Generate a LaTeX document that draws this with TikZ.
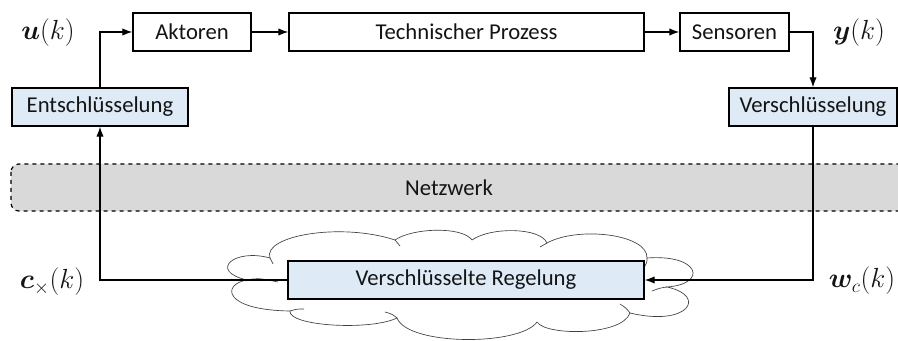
\documentclass[tikz,border=0pt]{standalone}
\usepackage{amsmath,bm}
\usepackage{fontspec}
\setmainfont{Carlito}
\usetikzlibrary{arrows.meta}

\definecolor{boxblue}{HTML}{DEEBF7}
\definecolor{netgray}{HTML}{D9D9D9}
\definecolor{txt}{HTML}{141414}

\begin{document}
\begin{tikzpicture}[
  x=0.75pt, y=-0.75pt,
  font=\fontsize{17}{20}\selectfont, text=txt,
  block/.style={draw=black, line width=1pt, fill=white, minimum height=38*0.75pt,
                inner sep=0pt, anchor=center},
  codec/.style={block, fill=boxblue},
  arr/.style={line width=0.9pt, -{Latex[length=7.5pt,width=5.5pt]}},
  cloudline/.style={draw=black!75, line width=0.5pt},
  sig/.style={font=\fontsize{19.5}{22}\selectfont, anchor=center},
]
\useasboundingbox (0,0) rectangle (898,341);

% network band, open to the right
\begin{scope}
  \clip (0,0) rectangle (898,341);
  \draw[dashed, line width=0.9pt, fill=netgray, rounded corners=8*0.75pt]
    (11,164) rectangle (930,211);
\end{scope}
\node[anchor=center] (net) at (449,188) {Netzwerk};

% cloud behind the encrypted controller
\path[cloudline, fill=white]
  (270,258) .. controls (262,236) and (340,222) .. (395,240)
            .. controls (412,228) and (462,226) .. (472,240)
            .. controls (490,227) and (540,227) .. (547,243)
            .. controls (578,226) and (648,234) .. (647,258)
            .. controls (700,254) and (708,284) .. (667,287)
            .. controls (708,296) and (688,327) .. (630,313)
            .. controls (622,336) and (546,336) .. (537,322)
            .. controls (520,346) and (408,346) .. (397,318)
            .. controls (370,331) and (288,326) .. (290,311)
            .. controls (222,310) and (222,284) .. (247,280)
            .. controls (208,271) and (234,248) .. (270,258) -- cycle;
% inner arcs of the cloud lobes
\draw[cloudline] (270,258) .. controls (271,261) .. (273,264);
\draw[cloudline] (395,240) .. controls (397,243) .. (400,246);
\draw[cloudline] (547,243) .. controls (544,245) .. (540,247);
\draw[cloudline] (647,258) .. controls (647,262) .. (645,266);
\draw[cloudline] (667,287) .. controls (660,288) .. (652,291);
\draw[cloudline] (247,280) .. controls (258,278) .. (278,282);
\draw[cloudline] (630,313) .. controls (626,308) .. (620,304);
\draw[cloudline] (397,318) .. controls (392,314) .. (385,312);
\draw[cloudline] (290,311) .. controls (297,309) .. (304,309);

% plant chain
\node[block, minimum width=118*0.75pt] (akt) at (192,32) {Aktoren};
\node[block, minimum width=355*0.75pt] (tp) at (466.5,32) {Technischer Prozess};
\node[block, minimum width=109*0.75pt] (sen) at (734.5,32) {Sensoren};

% encryption / decryption
\node[codec, minimum width=176*0.75pt] (ent) at (100,107) {Entschlüsselung};
\node[codec, minimum width=168*0.75pt] (ver) at (813,107) {Verschlüsselung};

% encrypted control
\node[codec, minimum width=356*0.75pt] (vr) at (466,280) {Verschlüsselte Regelung};

% signal labels
\node[sig] (u) at (48,33) {$\bm{u}(k)$};
\node[sig] (y) at (859,33) {$\bm{y}(k)$};
\node[sig] (c) at (52,282) {$\bm{c}_{\times}(k)$};
\node[sig] (w) at (862,281) {$\bm{w}_{c}(k)$};

% connectors
\draw[arr] (ent.north) |- (akt.west);
\draw[arr] (akt.east) -- (tp.west);
\draw[arr] (tp.east) -- (sen.west);
\draw[arr] (sen.east) -| (ver.north);
\draw[arr] (ver.south) |- (vr.east);
\draw[arr] (vr.west) -| (ent.south);
\end{tikzpicture}
\end{document}
